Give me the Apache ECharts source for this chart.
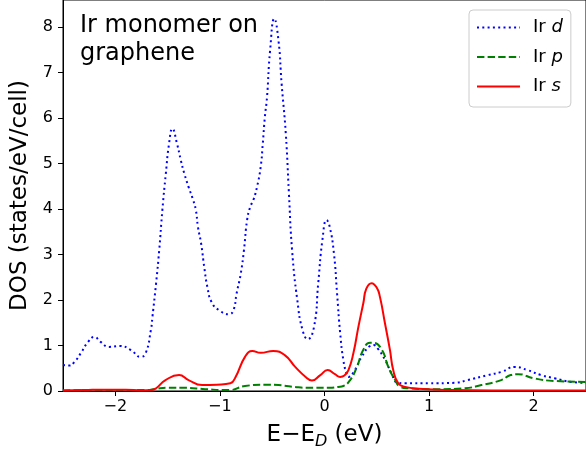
<!DOCTYPE html>
<html>
<head>
<meta charset="utf-8">
<script src="https://cdn.jsdelivr.net/npm/echarts@6/dist/echarts.min.js"></script>
<style>html,body{margin:0;padding:0;background:#fff;}#c{width:586px;height:455px;}</style>
</head>
<body>
<div id="c"></div>
<script>
// Energies (eV, relative to Dirac point) and DOS values
const dE = [-2.50,-2.44,-2.39,-2.33,-2.26,-2.20,-2.14,-2.06,-1.96,-1.85,-1.76,-1.71,-1.66,-1.645,-1.61,-1.58,-1.55,-1.517,-1.486,-1.454,-1.41,-1.374,-1.34,-1.30,-1.26,-1.23,-1.21,-1.18,-1.15,-1.12,-1.08,-1.01,-0.91,-0.87,-0.84,-0.80,-0.77,-0.74,-0.71,-0.68,-0.645,-0.61,-0.59,-0.57,-0.55,-0.52,-0.48,-0.44,-0.41,-0.37,-0.34,-0.31,-0.26,-0.21,-0.16,-0.10,-0.06,-0.02,0.02,0.05,0.09,0.12,0.15,0.18,0.21,0.23,0.29,0.355,0.435,0.47,0.51,0.58,0.64,0.70,0.77,1.00,1.24,1.37,1.56,1.69,1.82,1.94,2.07,2.20,2.36,2.50];
const dDOS = [0.57,0.56,0.64,0.83,1.08,1.19,1.08,0.97,0.99,0.90,0.75,0.83,1.34,1.63,2.37,3.10,3.98,4.78,5.44,5.77,5.44,5.08,4.78,4.49,4.23,3.98,3.61,3.25,2.73,2.29,1.96,1.78,1.69,1.78,2.15,2.59,3.10,3.76,4.05,4.20,4.49,4.93,5.44,6.03,6.45,7.49,8.19,7.71,6.76,5.66,4.34,3.10,2.00,1.34,1.14,1.41,2.37,3.32,3.76,3.61,3.03,2.15,1.27,0.68,0.39,0.31,0.46,0.75,0.99,1.01,0.93,0.68,0.39,0.18,0.17,0.17,0.18,0.24,0.35,0.42,0.53,0.46,0.35,0.28,0.20,0.18];

const pE = [-2.50,-2.20,-1.90,-1.70,-1.61,-1.49,-1.33,-1.14,-0.91,-0.76,-0.56,-0.44,-0.25,-0.15,0.05,0.13,0.18,0.245,0.31,0.37,0.435,0.47,0.55,0.61,0.675,0.72,0.80,1.08,1.34,1.50,1.69,1.78,1.85,2.00,2.20,2.50];
const pDOS = [0.01,0.02,0.02,0.02,0.05,0.07,0.07,0.04,0.02,0.11,0.14,0.13,0.08,0.07,0.07,0.09,0.11,0.24,0.53,0.90,1.06,1.06,0.90,0.53,0.24,0.10,0.06,0.04,0.06,0.13,0.24,0.35,0.37,0.28,0.22,0.20];

const sE = [-2.50,-2.30,-2.10,-1.90,-1.75,-1.65,-1.61,-1.52,-1.39,-1.30,-1.17,-1.03,-0.90,-0.85,-0.76,-0.69,-0.61,-0.49,-0.38,-0.28,-0.18,-0.12,-0.04,0.03,0.10,0.15,0.19,0.229,0.276,0.324,0.371,0.40,0.45,0.50,0.53,0.578,0.626,0.657,0.705,0.77,0.90,1.24,1.60,2.50];
const sDOS = [0.01,0.02,0.03,0.03,0.01,0.02,0.06,0.24,0.35,0.24,0.13,0.14,0.17,0.31,0.75,0.88,0.84,0.88,0.79,0.53,0.31,0.23,0.35,0.46,0.37,0.31,0.34,0.46,0.83,1.41,1.93,2.25,2.37,2.27,2.07,1.49,0.90,0.46,0.17,0.09,0.05,0.02,0.01,0.01];

const xTicks = [-2, -1, 0, 1, 2];
const yTicks = [0, 1, 2, 3, 4, 5, 6, 7, 8];
const seriesNames = ['Ir d', 'Ir p', 'Ir s'];
const annotation = ['Ir monomer on', 'graphene'];

const pairs = (xs, ys) => xs.map((x, i) => [x, ys[i]]);
const minus = v => String(v).replace('-', '\u2212');
const FONT = 'DejaVu Sans';

const chart = echarts.init(document.getElementById('c'), null, {renderer: 'canvas'});
chart.setOption({
  animation: false,
  backgroundColor: '#ffffff',
  textStyle: {fontFamily: FONT, color: '#000'},
  grid: {left: 63, top: 0, width: 525.5, height: 391, show: true, borderColor: '#000', borderWidth: 1, backgroundColor: 'transparent'},
  xAxis: {
    type: 'value', min: -2.5, max: 2.5,
    axisLine: {show: true, onZero: false, lineStyle: {color: '#000', width: 1}},
    axisTick: {show: true, customValues: xTicks, length: 5, lineStyle: {color: '#000'}},
    axisLabel: {customValues: xTicks, formatter: minus, fontSize: 16, color: '#000', margin: 8, fontFamily: FONT},
    splitLine: {show: false},
    name: 'E\u2212E{sub|D} (eV)', nameLocation: 'middle', nameGap: 28,
    nameTextStyle: {fontSize: 23, color: '#000', fontFamily: FONT, lineHeight: 30,
      rich: {sub: {fontSize: 16, fontStyle: 'italic', verticalAlign: 'bottom', lineHeight: 16, fontFamily: FONT, color: '#000'}}}
  },
  yAxis: {
    type: 'value', min: 0, max: 8.6,
    axisLine: {show: true, onZero: false, lineStyle: {color: '#000', width: 1}},
    axisTick: {show: true, customValues: yTicks, length: 5, lineStyle: {color: '#000'}},
    axisLabel: {customValues: yTicks, formatter: minus, fontSize: 16, color: '#000', margin: 10, fontFamily: FONT},
    splitLine: {show: false},
    name: 'DOS (states/eV/cell)', nameLocation: 'middle', nameGap: 25,
    nameTextStyle: {fontSize: 23, color: '#000', fontFamily: FONT}
  },
  legend: {
    orient: 'vertical', left: 469, top: 10,
    data: seriesNames,
    itemWidth: 43, itemHeight: 14, itemGap: 8.5,
    padding: [7, 8, 10, 7],
    borderColor: '#cccccc', borderWidth: 1, borderRadius: 4,
    backgroundColor: 'rgba(255,255,255,0.8)',
    itemStyle: {opacity: 0},
    formatter: name => { const p = name.split(' '); return p[0] + ' {i|' + p[1] + '}'; },
    textStyle: {fontSize: 18, lineHeight: 21, color: '#000', fontFamily: FONT, padding: [0, 0, 0, 8],
      rich: {i: {fontSize: 18, fontStyle: 'italic', color: '#000', fontFamily: FONT}}}
  },
  graphic: [{
    type: 'text', left: 80, top: 12, z: 100,
    style: {text: annotation.join('\n'), font: '24px "DejaVu Sans"', lineHeight: 28, fill: '#000'}
  }],
  series: [
    {name: seriesNames[0], type: 'line', data: pairs(dE, dDOS), symbol: 'none', smooth: 0.5,
     lineStyle: {color: '#0000ff', width: 2, type: [2, 3.3]}, itemStyle: {color: '#0000ff'}, z: 2},
    {name: seriesNames[1], type: 'line', data: pairs(pE, pDOS), symbol: 'none', smooth: 0.5,
     lineStyle: {color: '#008000', width: 2, type: [7.4, 3.2]}, itemStyle: {color: '#008000'}, z: 3},
    {name: seriesNames[2], type: 'line', data: pairs(sE, sDOS), symbol: 'none', smooth: 0.5,
     lineStyle: {color: '#ff0000', width: 2, type: 'solid'}, itemStyle: {color: '#ff0000'}, z: 4}
  ]
});
</script>
</body>
</html>
